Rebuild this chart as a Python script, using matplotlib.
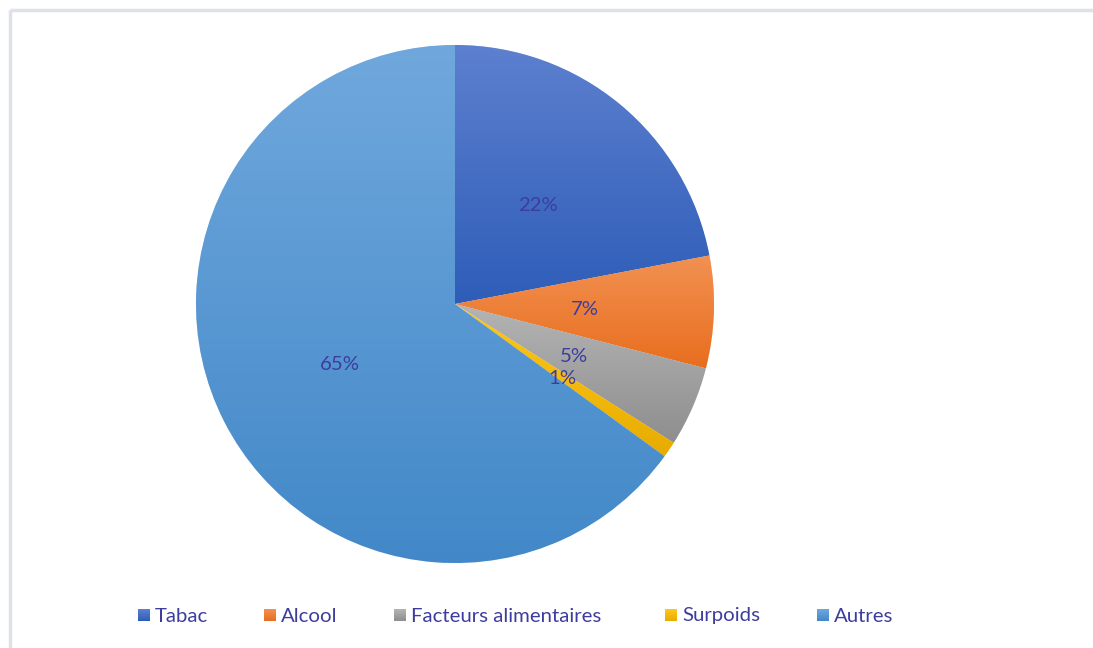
import numpy as np
import matplotlib
matplotlib.use("Agg")
import matplotlib.pyplot as plt
from matplotlib.colors import LinearSegmentedColormap
from matplotlib.patches import Rectangle

# Share of cancer cases by risk factor
categories = ["Tabac", "Alcool", "Facteurs alimentaires", "Surpoids", "Autres"]
values = [22, 7, 5, 1, 65]
labels = ["22%", "7%", "5%", "1%", "65%"]

# Each slice is filled with a light-to-dark vertical gradient
top_colors = ["#5d80cf", "#f29152", "#b4b4b4", "#ffc81a", "#70a8dd"]
bottom_colors = ["#2e5db8", "#e86e1e", "#8e8e8e", "#e8ac00", "#4288c8"]

text_color = "#3d3d9e"
font = "Lato"
fsize = 14.7

W, H = 1093, 648
fig = plt.figure(figsize=(W / 100, H / 100), dpi=100)
fig.patch.set_facecolor("white")

# Chart frame
frame = fig.add_axes([0, 0, 1, 1])
frame.set_xlim(0, W)
frame.set_ylim(H, 0)
frame.axis("off")
frame.add_patch(Rectangle((9.5, 9.5), W + 10, H + 10, fill=False,
                          edgecolor="#dde1e8", linewidth=2.5))

# Pie area
cx, cy, R = 455, 304, 259
ax = fig.add_axes([(cx - R) / W, (H - cy - R) / H, 2 * R / W, 2 * R / H])
ax.set_xlim(-1, 1)
ax.set_ylim(-1, 1)
ax.set_aspect("equal")
ax.axis("off")

wedges, texts = ax.pie(values, labels=labels, startangle=90, counterclock=False,
                       radius=1, labeldistance=0.5,
                       colors=top_colors,
                       wedgeprops=dict(edgecolor="white", linewidth=0.4),
                       textprops=dict(color=text_color, fontsize=fsize, family=font))

for w, c0, c1 in zip(wedges, top_colors, bottom_colors):
    verts = w.get_path().vertices
    x0, x1 = verts[:, 0].min(), verts[:, 0].max()
    y0, y1 = verts[:, 1].min(), verts[:, 1].max()
    cmap = LinearSegmentedColormap.from_list("g", [c1, c0])
    grad = np.linspace(0, 1, 256).reshape(-1, 1)
    im = ax.imshow(grad, cmap=cmap, extent=[x0, x1, y0, y1], origin="lower",
                   aspect="auto", zorder=w.get_zorder() + 0.1, interpolation="bilinear")
    im.set_clip_path(w)
for t in texts:
    t.set_zorder(5)
    t.set_ha("center")
    t.set_va("center_baseline")
ax.set_xlim(-1, 1)
ax.set_ylim(-1, 1)

# Legend along the bottom
legend_x = [138, 264, 394, 665, 817]
legend_y = 615
baseline_y = 621.5
sq = 12
for name, xs, c0, c1 in zip(categories, legend_x, top_colors, bottom_colors):
    cmap = LinearSegmentedColormap.from_list("g", [c0, c1])
    grad = np.linspace(0, 1, 64).reshape(-1, 1)
    frame.imshow(grad, cmap=cmap, extent=[xs, xs + sq, legend_y + sq / 2, legend_y - sq / 2],
                 aspect="auto", interpolation="bilinear")
    frame.text(xs + sq + 5, baseline_y, name, color=text_color, fontsize=fsize,
               family=font, va="baseline", ha="left")
frame.set_xlim(0, W)
frame.set_ylim(H, 0)

fig.savefig("out.png", dpi=100, facecolor="white")
